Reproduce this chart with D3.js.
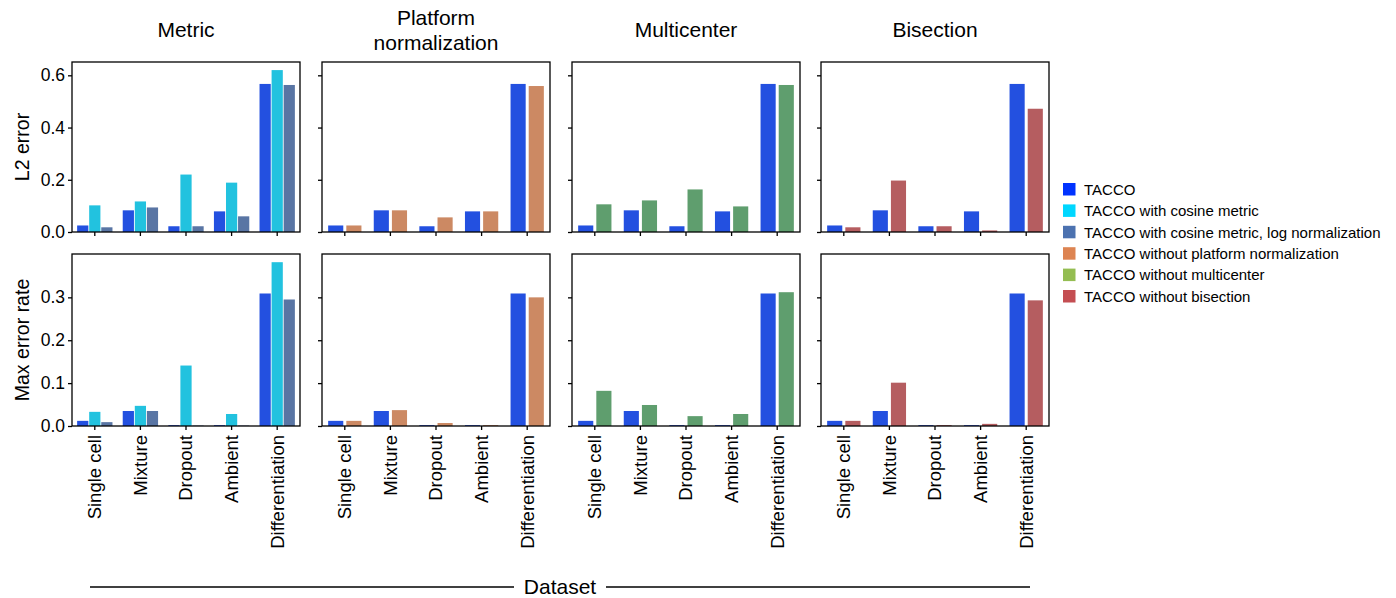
<!DOCTYPE html>
<html>
<head>
<meta charset="utf-8">
<script src="https://cdn.jsdelivr.net/npm/d3@7"></script>
<style>
  body { margin: 0; background: #fff; }
  svg { display: block; font-family: "Liberation Sans", Arial, Helvetica, sans-serif; }
</style>
</head>
<body>
<svg id="chart" width="1396" height="598"></svg>
<script>
// Datasets along the x axis
const datasets = ["Single cell", "Mixture", "Dropout", "Ambient", "Differentiation"];

// Methods (legend order) with swatch colour and bar colour
const methods = [
  "TACCO",
  "TACCO with cosine metric",
  "TACCO with cosine metric, log normalization",
  "TACCO without platform normalization",
  "TACCO without multicenter",
  "TACCO without bisection"
];
const legendColors = ["#0033ff", "#00d7ff", "#4c72b0", "#dd8452", "#94bd52", "#c44e52"];
const barColors    = ["#2350e0", "#22c2df", "#5975a4", "#cc8963", "#5f9e6e", "#b55d60"];

// Panels: title lines and the methods compared in each
const panelTitles = [["Metric"], ["Platform", "normalization"], ["Multicenter"], ["Bisection"]];
const panelMethods = [[0, 1, 2], [0, 3], [0, 4], [0, 5]];

// Metrics (rows)
const metricLabels = ["L2 error", "Max error rate"];
const yTicksL2 = [0.0, 0.2, 0.4, 0.6];
const yTicksMax = [0.0, 0.1, 0.2, 0.3];

// L2 error per method, per dataset
const l2TACCO        = [0.025, 0.083, 0.022, 0.079, 0.567];
const l2Cosine       = [0.102, 0.117, 0.220, 0.189, 0.620];
const l2CosineLog    = [0.018, 0.094, 0.022, 0.060, 0.563];
const l2NoPlatform   = [0.025, 0.083, 0.056, 0.079, 0.559];
const l2NoMulticenter= [0.106, 0.121, 0.163, 0.098, 0.563];
const l2NoBisection  = [0.018, 0.197, 0.022, 0.006, 0.472];

// Max error rate per method, per dataset
const maxTACCO        = [0.012, 0.035, 0.002, 0.002, 0.309];
const maxCosine       = [0.033, 0.047, 0.141, 0.028, 0.382];
const maxCosineLog    = [0.009, 0.035, 0.001, 0.001, 0.295];
const maxNoPlatform   = [0.012, 0.037, 0.007, 0.002, 0.300];
const maxNoMulticenter= [0.082, 0.049, 0.023, 0.028, 0.312];
const maxNoBisection  = [0.012, 0.101, 0.002, 0.005, 0.293];

const rows = [
  { label: metricLabels[0], ticks: yTicksL2,
    values: [l2TACCO, l2Cosine, l2CosineLog, l2NoPlatform, l2NoMulticenter, l2NoBisection] },
  { label: metricLabels[1], ticks: yTicksMax,
    values: [maxTACCO, maxCosine, maxCosineLog, maxNoPlatform, maxNoMulticenter, maxNoBisection] }
];

// Layout
const panelLeft = [72, 322, 572, 821];
const panelW = 228;
const rowTop = [62, 254];
const rowBottom = [232, 426];

const svg = d3.select("#chart");

rows.forEach((row, ri) => {
  // shared y scale for the row, with 5% headroom above the tallest bar
  const rowMax = d3.max(panelMethods.flat(), m => d3.max(row.values[m]));
  const y = d3.scaleLinear().domain([0, rowMax * 1.05]).range([rowBottom[ri], rowTop[ri]]);

  panelMethods.forEach((ms, pi) => {
    const x0 = panelLeft[pi];
    const x = d3.scaleBand().domain(datasets).range([x0, x0 + panelW]).paddingInner(0).paddingOuter(0.0);
    const groupW = x.bandwidth() * (ms.length === 3 ? 0.775 : 0.73);
    const inner = d3.scaleBand().domain(ms).range([0, groupW])
      .paddingInner(ms.length === 3 ? 0.07 : 0.167).paddingOuter(0);

    const g = svg.append("g");

    datasets.forEach((ds, di) => {
      const cx = x(ds) + x.bandwidth() / 2;
      ms.forEach(m => {
        const v = row.values[m][di];
        g.append("rect")
          .attr("x", cx - groupW / 2 + inner(m))
          .attr("width", inner.bandwidth())
          .attr("y", y(v))
          .attr("height", y(0) - y(v))
          .attr("fill", barColors[m]);
      });
    });

    // frame
    g.append("rect")
      .attr("x", x0).attr("y", rowTop[ri])
      .attr("width", panelW).attr("height", rowBottom[ri] - rowTop[ri])
      .attr("fill", "none").attr("stroke", "#000").attr("stroke-width", 1.3);

    // y axis
    const yAxis = d3.axisLeft(y).tickValues(row.ticks).tickSize(4).tickFormat(pi === 0 ? d3.format(".1f") : "");
    const ya = svg.append("g").attr("transform", `translate(${x0},0)`).call(yAxis);
    ya.select(".domain").remove();
    ya.selectAll(".tick line").attr("stroke", "#000").attr("stroke-width", 1.3);
    ya.selectAll(".tick text").attr("font-size", 17.5).attr("fill", "#000")
      .attr("font-family", "Liberation Sans, Arial, sans-serif").attr("x", -7);

    // x axis
    const xAxis = d3.axisBottom(x).tickSize(4).tickFormat(ri === 1 ? d => d : "");
    const xa = svg.append("g").attr("transform", `translate(0,${rowBottom[ri]})`).call(xAxis);
    xa.select(".domain").remove();
    xa.selectAll(".tick line").attr("stroke", "#000").attr("stroke-width", 1.3);
    xa.selectAll(".tick text")
      .attr("font-size", 18.5).attr("fill", "#000")
      .attr("font-family", "Liberation Sans, Arial, sans-serif")
      .attr("text-anchor", "end")
      .attr("transform", "rotate(-90)")
      .attr("x", -9).attr("y", 0).attr("dy", "0.35em");

    // panel titles
    if (ri === 0) {
      const lines = panelTitles[pi];
      const t = svg.append("text")
        .attr("text-anchor", "middle")
        .attr("font-size", 21)
        .attr("fill", "#000");
      lines.forEach((ln, li) => {
        const yy = lines.length === 1 ? 37 : 25 + li * 25;
        t.append("tspan").attr("x", x0 + panelW / 2).attr("y", yy).text(ln);
      });
    }
  });

  // row label
  const cy = (rowTop[ri] + rowBottom[ri]) / 2;
  svg.append("text")
    .attr("transform", `translate(29,${cy}) rotate(-90)`)
    .attr("text-anchor", "middle")
    .attr("font-size", 19.5)
    .attr("fill", "#000")
    .text(row.label);
});

// shared x-axis caption with rule
const capX = 560, capY = 587;
svg.append("line").attr("x1", 90).attr("x2", 514).attr("y1", capY).attr("y2", capY)
  .attr("stroke", "#000").attr("stroke-width", 1.6);
svg.append("line").attr("x1", 606).attr("x2", 1030).attr("y1", capY).attr("y2", capY)
  .attr("stroke", "#000").attr("stroke-width", 1.6);
svg.append("text").attr("x", capX).attr("y", capY + 7)
  .attr("text-anchor", "middle").attr("font-size", 21).attr("fill", "#000").text("Dataset");

// legend
const lg = svg.append("g").attr("transform", "translate(1063,183)");
methods.forEach((m, i) => {
  const yy = i * 21.4;
  lg.append("rect").attr("x", 0).attr("y", yy).attr("width", 12.5).attr("height", 12.5)
    .attr("fill", legendColors[i]);
  lg.append("text").attr("x", 21).attr("y", yy + 6.5).attr("dy", "0.35em")
    .attr("font-size", 15).attr("fill", "#000").text(m);
});
</script>
</body>
</html>
